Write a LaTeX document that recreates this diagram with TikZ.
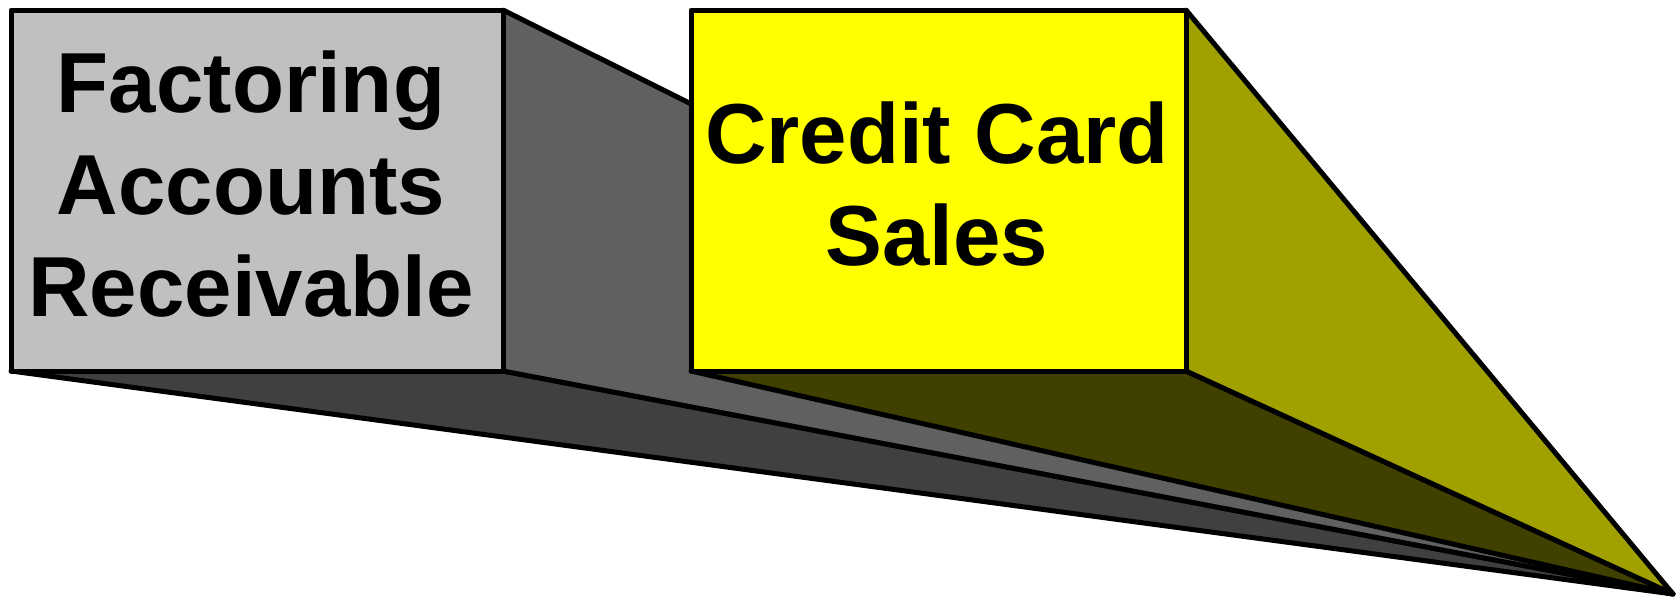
\documentclass[tikz,border=0pt]{standalone}
\usepackage{fontspec}
\setmainfont{Liberation Sans}
\begin{document}
\begin{tikzpicture}[x=0.5pt,y=-0.5pt,
  face/.style={draw=black,line width=2.5pt,line join=round},
  label/.style={inner sep=0pt,align=center,font=\fontsize{42.6}{50.9}\selectfont\bfseries}]
\useasboundingbox (0,0) rectangle (1678,600);
% vanishing point
\coordinate (vp) at (1673,594);
% gray box corners
\coordinate (gtl) at (11,10);
\coordinate (gtr) at (503,10);
\coordinate (gbr) at (503,371);
\coordinate (gbl) at (11,371);
% yellow box corners
\coordinate (ytl) at (691,10);
\coordinate (ytr) at (1186,10);
\coordinate (ybr) at (1186,371);
\coordinate (ybl) at (691,371);
% gray box
\filldraw[face,fill={rgb,255:red,64;green,64;blue,64}] (gbl) -- (gbr) -- (vp) -- cycle;
\filldraw[face,fill={rgb,255:red,96;green,96;blue,96}] (gtr) -- (vp) -- (gbr) -- cycle;
\filldraw[face,fill={rgb,255:red,192;green,192;blue,192}] (gtl) rectangle (gbr);
% yellow box
\filldraw[face,fill={rgb,255:red,64;green,64;blue,0}] (ybl) -- (ybr) -- (vp) -- cycle;
\filldraw[face,fill={rgb,255:red,160;green,160;blue,0}] (ytr) -- (vp) -- (ybr) -- cycle;
\filldraw[face,fill={rgb,255:red,255;green,255;blue,0}] (ytl) rectangle (ybr);
% labels
\node[label] (gtext) at (251,184) {Factoring\\Accounts\\Receivable};
\node[label] (ytext) at (937,184) {Credit Card\\Sales};
\end{tikzpicture}
\end{document}
